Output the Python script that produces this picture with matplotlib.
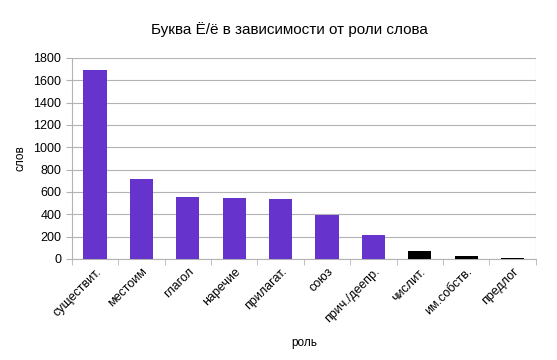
import matplotlib
matplotlib.use("Agg")
import matplotlib.pyplot as plt
import numpy as np

plt.rcParams["font.family"] = ["Liberation Sans", "DejaVu Sans"]

roles = ["существит.", "местоим", "глагол", "наречие", "прилагат.", "союз",
         "прич./деепр.", "числит.", "им.собств.", "предлог"]
counts = [1690, 715, 550, 545, 535, 390, 210, 72, 25, 8]
colors = ["#6633cc"] * 7 + ["#000000"] * 3

fig = plt.figure(figsize=(5.57, 3.6), dpi=100)
ax = fig.add_axes([0.129, 0.281, 0.833, 0.558])
x = np.arange(len(roles))
ax.bar(x, counts, width=0.5, color=colors, zorder=3)
ax.set_xlim(-0.5, len(roles) - 0.5)
ax.set_ylim(0, 1800)
ax.set_yticks(np.arange(0, 1801, 200))
ax.yaxis.grid(True, color="#b3b3b3", lw=0.8, zorder=0)
ax.set_xticks(x)
ax.set_xticklabels(roles, rotation=45, ha="right", rotation_mode="anchor", fontsize=9)
ax.set_xticks(np.arange(-0.5, len(roles), 1), minor=True)
ax.tick_params(axis="x", which="major", length=0, pad=5)
ax.tick_params(axis="x", which="minor", length=4, color="#b3b3b3")
ax.tick_params(axis="y", length=4, color="#b3b3b3", labelsize=9)
for s in ["top", "right"]:
    ax.spines[s].set_visible(False)
ax.spines["left"].set_color("#b3b3b3")
ax.spines["bottom"].set_color("#b3b3b3")
ax.axvline(len(roles) - 0.5, color="#cc99cc", lw=0.8, zorder=1)
ax.set_ylabel("слов", fontsize=8.5, labelpad=5)
ax.set_xlabel("роль", fontsize=8.5, labelpad=8)
fig.suptitle("Буква Ё/ё в зависимости от роли слова", fontsize=11, x=0.519, y=0.94)
fig.savefig("out.png", dpi=100)
